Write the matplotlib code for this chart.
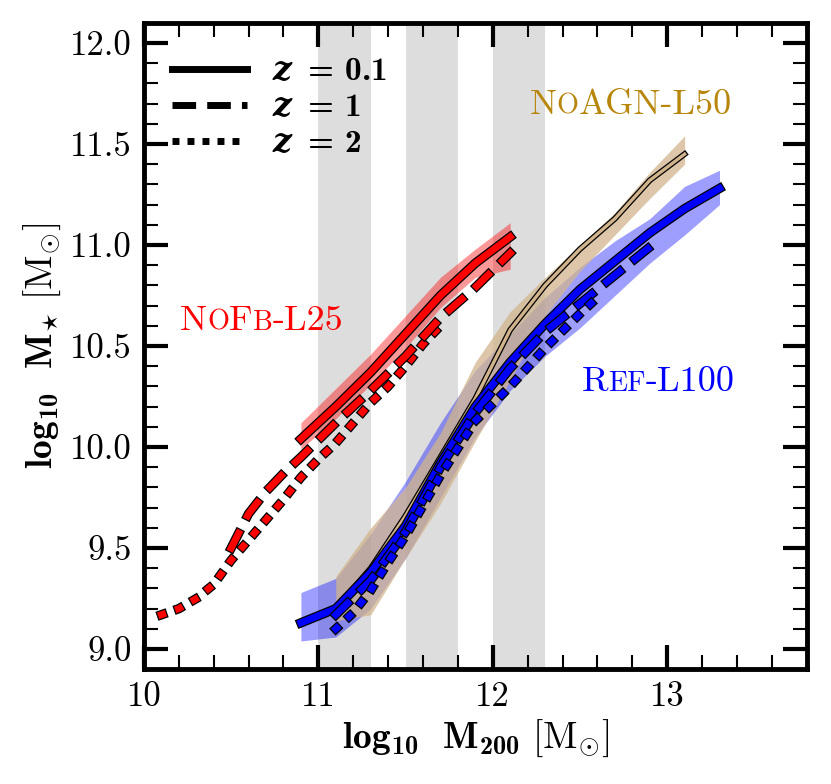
import matplotlib
matplotlib.use('Agg')
import matplotlib.pyplot as plt
import matplotlib.patheffects as pe
from matplotlib.lines import Line2D
from matplotlib.ticker import MultipleLocator, FormatStrFormatter
from matplotlib.offsetbox import TextArea, HPacker, AnnotationBbox

plt.rcParams.update({
    'font.family': 'serif', 'font.serif': ['cmr10'], 'mathtext.fontset': 'cm',
    'mathtext.rm': 'cmr10', 'mathtext.bf': 'cmb10', 'mathtext.it': 'cmmi10',
    'mathtext.fallback': 'cm',
    'axes.formatter.use_mathtext': True, 'lines.scale_dashes': False,
    'axes.unicode_minus': False,
})

# ---------------- data ----------------
# NoFb-L25 (red)
nofb_x01 = [10.9, 11.1, 11.3, 11.5, 11.7, 11.9, 12.1]
nofb_y01 = [10.04, 10.20, 10.37, 10.56, 10.75, 10.91, 11.04]
nofb_lo01 = [9.99, 10.14, 10.31, 10.49, 10.69, 10.84, 10.88]
nofb_hi01 = [10.12, 10.29, 10.46, 10.65, 10.84, 10.98, 11.11]
nofb_x1 = [10.5, 10.6, 10.7, 10.8, 10.9, 11.1, 11.3, 11.5, 11.7, 11.9, 12.1]
nofb_y1 = [9.50, 9.67, 9.78, 9.87, 9.95, 10.12, 10.28, 10.45, 10.64, 10.79, 10.96]
nofb_x2 = [10.1, 10.2, 10.3, 10.4, 10.5, 10.6, 10.7, 10.8, 10.9, 11.0, 11.1, 11.2,
           11.3, 11.4, 11.5, 11.6, 11.7]
nofb_y2 = [9.17, 9.20, 9.25, 9.32, 9.44, 9.54, 9.64, 9.74, 9.85, 9.94, 10.02, 10.12,
           10.22, 10.30, 10.40, 10.51, 10.60]

# Ref-L100 (blue)
ref_x01 = [10.9, 11.1, 11.3, 11.5, 11.7, 11.9, 12.1, 12.3, 12.5, 12.7, 12.9, 13.1, 13.3]
ref_y01 = [9.13, 9.20, 9.38, 9.61, 9.92, 10.20, 10.42, 10.61, 10.78, 10.92, 11.06, 11.18, 11.28]
ref_lo01 = [9.04, 9.06, 9.20, 9.45, 9.75, 10.05, 10.28, 10.45, 10.59, 10.75, 10.91, 11.05, 11.20]
ref_hi01 = [9.28, 9.35, 9.57, 9.83, 10.12, 10.38, 10.56, 10.74, 10.89, 11.02, 11.13, 11.29, 11.37]
ref_x1 = [11.1, 11.3, 11.5, 11.7, 11.9, 12.1, 12.3, 12.5, 12.7, 12.9]
ref_y1 = [9.17, 9.34, 9.58, 9.90, 10.17, 10.39, 10.57, 10.71, 10.85, 10.99]
ref_x2 = [11.1, 11.2, 11.3, 11.4, 11.5, 11.7, 11.9, 12.1, 12.3, 12.5, 12.6]
ref_y2 = [9.10, 9.18, 9.29, 9.43, 9.56, 9.86, 10.13, 10.30, 10.49, 10.66, 10.74]

# NoAGN-L50 (tan)
noagn_x01 = [11.1, 11.3, 11.5, 11.7, 11.9, 12.1, 12.3, 12.5, 12.7, 12.9, 13.1]
noagn_y01 = [9.20, 9.40, 9.66, 9.95, 10.24, 10.58, 10.80, 10.98, 11.13, 11.32, 11.45]
noagn_lo01 = [9.14, 9.17, 9.45, 9.72, 10.03, 10.33, 10.65, 10.87, 11.05, 11.23, 11.40]
noagn_hi01 = [9.36, 9.60, 9.80, 10.07, 10.42, 10.67, 10.84, 11.00, 11.16, 11.36, 11.54]

spans = [(11.0, 11.3), (11.5, 11.8), (12.0, 12.3)]
legend_labels = [r'$\mathbfit{z}\,$ = 0.1', r'$\mathbfit{z}\,$ = 1', r'$\mathbfit{z}\,$ = 2']

# ---------------- styles ----------------
LW = 5
SOLID = dict(linestyle='-')
DASH = dict(dashes=(12, 14))
DOT = dict(dashes=(1, 12))


def outline(lw):
    return [pe.Stroke(linewidth=lw + 1.8, foreground='k'), pe.Normal()]


fig = plt.figure(figsize=(8.31, 7.84), dpi=100)
ax = fig.add_axes([0.1732, 0.1463, 0.9708 - 0.1732, 0.971 - 0.1463])

for a, b in spans:
    ax.axvspan(a, b, color='#dddddd', lw=0, zorder=0)

ax.fill_between(nofb_x01, nofb_lo01, nofb_hi01, color='red', alpha=0.4, lw=0, zorder=1)
ax.fill_between(ref_x01, ref_lo01, ref_hi01, color='blue', alpha=0.38, lw=0, zorder=1)
ax.fill_between(noagn_x01, noagn_lo01, noagn_hi01, color='tan', alpha=0.75, lw=0, zorder=1.1)

common = dict(solid_capstyle='projecting', dash_capstyle='projecting')
ax.plot(noagn_x01, noagn_y01, color='tan', lw=2.4, path_effects=outline(2.4), zorder=3, **common)

ax.plot(ref_x01, ref_y01, color='blue', lw=LW, path_effects=outline(LW), zorder=4, **common, **SOLID)
ax.plot(ref_x1, ref_y1, color='blue', lw=LW, path_effects=outline(LW), zorder=4.1, **common, **DASH)
ax.plot(ref_x2, ref_y2, color='blue', lw=LW, path_effects=outline(LW), zorder=4.2, **common, **DOT)

ax.plot(nofb_x2, nofb_y2, color='red', lw=LW, path_effects=outline(LW), zorder=4, **common, **DOT)
ax.plot(nofb_x1, nofb_y1, color='red', lw=LW, path_effects=outline(LW), zorder=4.1, **common, **DASH)
ax.plot(nofb_x01, nofb_y01, color='red', lw=LW, path_effects=outline(LW), zorder=4.2, **common, **SOLID)

# legend
handles = [Line2D([], [], color='k', lw=5, **SOLID),
           Line2D([], [], color='k', lw=5, dashes=(17, 8)),
           Line2D([], [], color='k', lw=5, dashes=(5, 5.8))]
leg = ax.legend(handles, legend_labels, loc='upper left', frameon=False,
                prop=dict(family='cmb10', size=24),
                handlelength=2.25, handletextpad=0.75, labelspacing=0.2,
                borderaxespad=0.0, borderpad=0.0, bbox_to_anchor=(0.043, 0.947))
for t in leg.get_texts():
    t.set_math_fontfamily('dejavuserif')


def smallcaps(pieces, xy, color, size=26):
    kids = [TextArea(s, textprops=dict(color=color, fontsize=size * (0.78 if sm else 1.0)))
            for s, sm in pieces]
    box = HPacker(children=kids, align='baseline', pad=0, sep=0)
    ab = AnnotationBbox(box, xy, xycoords='data', box_alignment=(0, 0),
                        frameon=False, pad=0, zorder=6)
    ax.add_artist(ab)


smallcaps([('N', False), ('O', True), ('F', False), ('B', True), ('-L25', False)],
          (10.207, 10.545), 'red')
smallcaps([('N', False), ('O', True), ('AGN-L50', False)], (12.21, 11.615), 'darkgoldenrod')
smallcaps([('R', False), ('EF', True), ('-L100', False)], (12.51, 10.245), 'blue')

ax.set_xlim(10, 13.8)
ax.set_ylim(8.9, 12.1)
ax.xaxis.set_major_locator(MultipleLocator(1))
ax.xaxis.set_minor_locator(MultipleLocator(0.2))
ax.yaxis.set_major_locator(MultipleLocator(0.5))
ax.yaxis.set_minor_locator(MultipleLocator(0.1))
ax.xaxis.set_major_formatter(FormatStrFormatter('%d'))
ax.yaxis.set_major_formatter(FormatStrFormatter('%.1f'))
ax.tick_params(which='both', direction='in', top=True, right=True, labelsize=25)
ax.tick_params(which='major', length=17, width=3, pad=9)
ax.tick_params(which='minor', length=10, width=1.5)
for s in ax.spines.values():
    s.set_linewidth(3.5)

xl = ax.set_xlabel(r'$\mathbf{log_{10}\ \ M_{200}}\ [\mathrm{M}_{\odot}]$',
                   fontsize=27, labelpad=3)
yl = ax.set_ylabel(r'$\mathbf{log_{10}\ \ M}_{\star}\ [\mathrm{M}_{\odot}]$',
                   fontsize=27, labelpad=5)
xl.set_math_fontfamily('custom')
yl.set_math_fontfamily('custom')

fig.savefig('out.png', dpi=100)
